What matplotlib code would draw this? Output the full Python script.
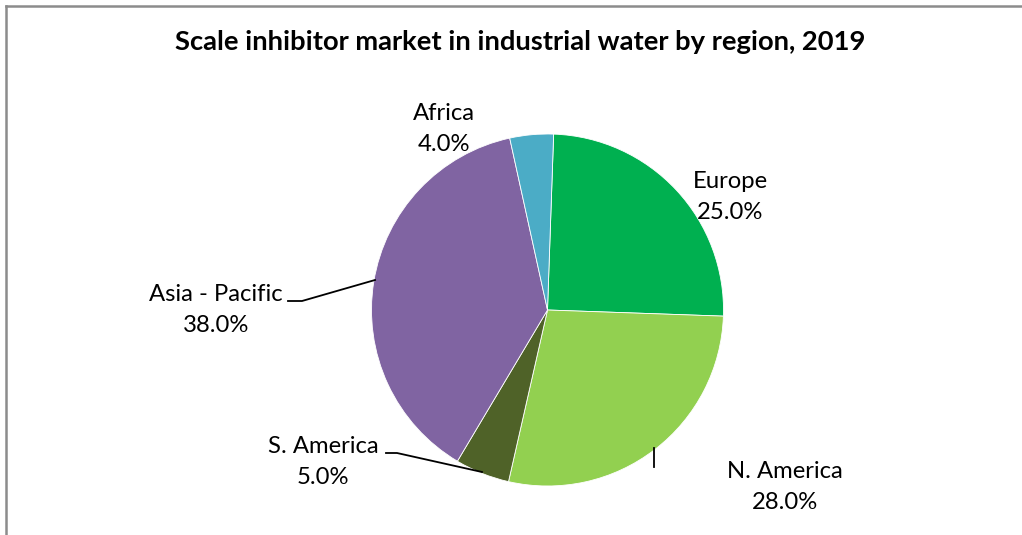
import numpy as np
import matplotlib.pyplot as plt
from matplotlib.lines import Line2D

regions = ['Europe', 'N. America', 'S. America', 'Asia - Pacific', 'Africa']
shares = [25.0, 28.0, 5.0, 38.0, 4.0]
colors = ['#00B050', '#92D050', '#4F6228', '#8064A2', '#4BACC6']

W, H = 1022, 535
plt.rcParams['font.family'] = ['Lato', 'DejaVu Sans']

fig = plt.figure(figsize=(W / 100, H / 100), dpi=100)
ax = fig.add_axes([0, 0, 1, 1])

cx, cy, r = 547.5, H - 310, 176
ax.pie(shares, colors=colors, startangle=88, counterclock=False,
       center=(cx, cy), radius=r,
       wedgeprops=dict(edgecolor='white', linewidth=0.6))
ax.set_xlim(0, W)
ax.set_ylim(0, H)
ax.set_aspect('equal')
ax.axis('off')

# label positions (pixels from top-left)
label_pos = {
    'Europe': (730, 197),
    'N. America': (785, 487),
    'S. America': (323, 462),
    'Asia - Pacific': (216, 310),
    'Africa': (444, 129),
}
for name, val in zip(regions, shares):
    x, y = label_pos[name]
    ax.text(x, H - y, f'{name}\n{val:.1f}%', ha='center', va='center',
            fontsize=17.2, linespacing=1.6, color='#000000')

# leader lines
leaders = [
    ([288, 302, 375], [301, 301, 280]),
    ([386, 397, 482], [453, 453, 472]),
    ([654, 654], [448, 467]),
]
for xs, ys in leaders:
    ax.plot(xs, [H - v for v in ys], color='black', lw=1.3)

ax.text(520, H - 42, 'Scale inhibitor market in industrial water by region, 2019',
        ha='center', va='center', fontsize=19.7, fontweight='bold')

# chart border (top and left visible)
fig.add_artist(Line2D([5.5 / W, 5.5 / W], [0, 1 - 5.5 / H], color='#8c8c8c', lw=1.8))
fig.add_artist(Line2D([5.5 / W, 1], [1 - 5.5 / H, 1 - 5.5 / H], color='#8c8c8c', lw=1.8))

fig.savefig('out.png', dpi=100)
